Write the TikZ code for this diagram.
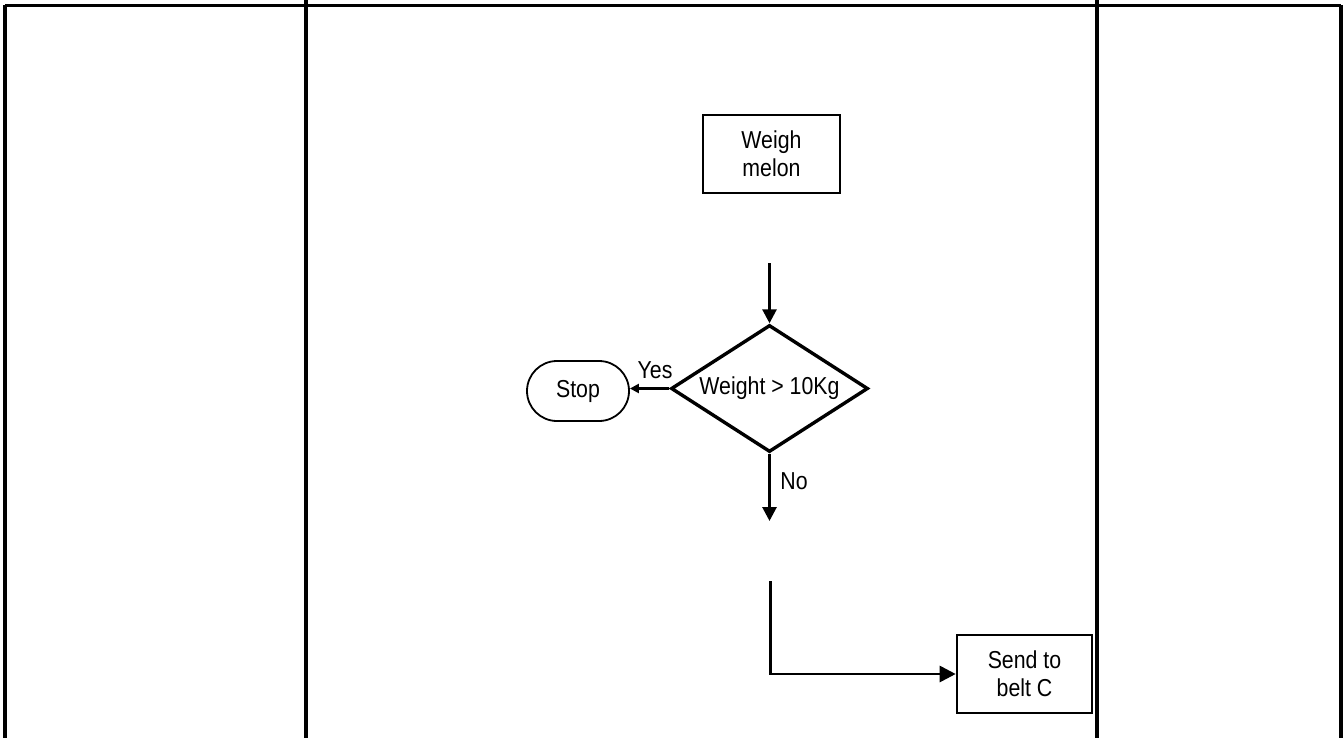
\documentclass[tikz,border=0pt]{standalone}
\usepackage{fontspec}
\setmainfont{Liberation Sans}[FakeStretch=0.87]
\usetikzlibrary{shapes.geometric,shapes.misc,arrows.meta}
\begin{document}
\begin{tikzpicture}[x=1pt,y=-1pt,
  tline/.style={line width=3.6pt},
  procbox/.style={draw,line width=2.6pt,rectangle,inner sep=0pt,align=center,font=\fontsize{24.5}{28}\selectfont},
  decbox/.style={draw,line width=3.4pt,diamond,aspect=1.55,inner sep=0pt,minimum width=197pt,minimum height=127pt,font=\fontsize{24.5}{28}\selectfont},
  termbox/.style={draw,line width=1.8pt,rounded rectangle,inner sep=0pt,minimum width=102pt,minimum height=60pt,font=\fontsize{24.5}{28}\selectfont},
  flow/.style={line width=2.8pt,-{Triangle[length=14pt,width=14pt]}},
  smallflow/.style={line width=2.8pt,-{Triangle[length=9pt,width=9pt]}},
  bigflow/.style={line width=2.8pt,-{Triangle[length=16pt,width=16pt]}},
  lbl/.style={font=\fontsize{24.5}{28}\selectfont,inner sep=0pt}]
\useasboundingbox (0,0) rectangle (1343,738);
% table lines
\coordinate (tl) at (5,5.5);
\coordinate (tr) at (1341,5.5);
\draw[tline] (tl) -- (tr);
\draw[tline] (tl) -- (5,738);
\draw[tline] (306,0) -- (306,738);
\draw[tline] (1097,0) -- (1097,738);
\draw[tline] (tr) -- (1341,738);
% nodes
\node[procbox,minimum width=137pt,minimum height=78pt] (weigh) at (771.5,154) {Weigh\\melon};
\node[decbox] (dec) at (769.5,388.5) {Weight > 10Kg};
\node[termbox] (stop) at (578,391) {Stop};
\node[procbox,minimum width=135pt,minimum height=78pt] (belt) at (1024.5,674) {Send to\\belt C};
% connectors
\coordinate (a1) at (769.5,263);
\draw[flow] (a1) -- (dec.north);
\draw[smallflow] (dec.west) -- (stop.east |- dec.west);
\node[lbl] (yes) at (655,370) {Yes};
\coordinate (n1) at (769.5,521);
\draw[flow] (dec.south) -- (n1);
\node[lbl] (no) at (794,481) {No};
\coordinate (s1) at (770.5,581);
\draw[bigflow] (s1) |- (belt.west);
\end{tikzpicture}
\end{document}
